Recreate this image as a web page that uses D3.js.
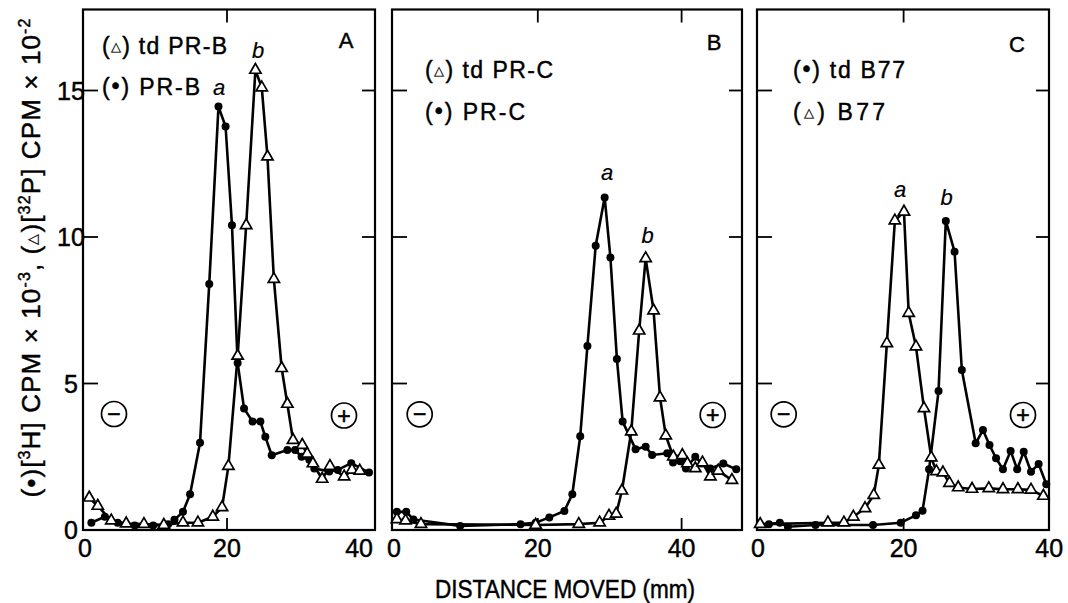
<!DOCTYPE html>
<html><head><meta charset="utf-8">
<script src="https://cdn.jsdelivr.net/npm/d3@7"></script>
<style>
html,body{margin:0;padding:0;background:#fff;}
svg{display:block;font-family:"Liberation Sans",Arial,Helvetica,sans-serif;}
svg text{stroke:#000;stroke-width:0.45px;}
</style></head><body>
<svg id="chart" width="1068" height="603"></svg>
<script>
// ---------------- DATA ----------------
const xTickValues = [0, 20, 40];
const yTickValues = [0, 5, 10, 15];
const panelLetters = ["A", "B", "C"];
const xAxisTitle = "DISTANCE MOVED (mm)";

// Panel A : (•) PR-B  and  (△) td PR-B
const prbX = [0.9,2.8,4.6,7.0,9.6,11.7,12.6,13.8,14.8,16.2,17.5,18.8,19.8,20.7,21.5,22.4,23.6,24.7,25.4,26.3,28.5,29.6,30.5,31.6,32.3,34.4,35.6,37.5,40.0];
const prbY = [0.25,0.45,0.25,0.15,0.15,0.2,0.35,0.62,1.22,2.98,8.4,14.45,13.77,10.4,5.7,4.15,3.7,3.7,3.18,2.55,2.73,2.73,2.5,2.4,2.1,2.0,2.05,2.28,1.96];
const tdprbX = [0.6,1.8,3.7,5.8,8.3,11.1,13.8,15.9,18.0,19.3,20.2,21.5,22.7,24.0,24.9,25.7,26.6,27.7,28.5,29.3,30.6,31.3,32.1,33.4,34.5,36.5,37.6,38.7];
const tdprbY = [1.1,0.82,0.32,0.22,0.2,0.17,0.25,0.25,0.45,0.77,2.18,5.94,10.4,15.7,15.1,12.74,8.56,5.52,4.3,3.07,2.9,2.6,2.27,1.74,2.18,1.82,2.05,2.02];

// Panel B : (•) PR-C  and  (△) td PR-C
const prcX = [0.4,1.7,2.7,9.2,17.6,19.7,21.6,23.7,24.8,25.9,26.9,28.05,29.3,30.1,31.0,31.8,33.6,35.0,35.9,38.0,38.8,39.8,40.6,41.9,42.8,44.0,45.8,47.6];
const prcY = [0.62,0.62,0.36,0.14,0.2,0.25,0.43,0.65,1.22,3.2,6.28,9.7,11.35,9.3,5.84,3.7,2.76,2.84,2.56,2.62,2.3,2.35,2.1,2.5,2.27,2.1,2.27,2.07];
const tdprcX = [0.4,1.6,3.75,19.7,25.7,28.6,29.9,30.9,31.7,33.0,34.1,35.0,36.1,37.0,37.8,38.85,40.1,40.8,41.9,42.9,44.0,45.1,47.0];
const tdprcY = [0.36,0.32,0.2,0.17,0.2,0.25,0.48,0.55,1.34,3.36,6.8,9.27,7.49,4.52,3.22,2.5,2.55,2.27,2.1,2.3,1.82,2.02,1.7];

// Panel C : (•) td B77  and  (△) B77
const tdb77X = [1.5,3.0,4.1,7.9,15.8,19.6,21.7,22.6,23.5,24.8,25.8,27.0,28.0,29.9,30.9,31.8,32.7,33.65,34.7,35.6,36.5,37.5,38.55,39.6];
const tdb77Y = [0.2,0.25,0.11,0.17,0.17,0.25,0.5,0.66,2.07,4.74,10.55,9.5,5.46,2.96,3.41,2.9,2.45,2.07,2.7,2.07,2.67,1.99,2.25,1.56];
const b77X = [0.3,9.6,11.8,13.1,14.7,15.9,16.6,17.7,18.8,20.05,20.7,21.7,22.8,23.8,24.5,25.4,26.3,27.5,29.4,31.7,33.65,35.7,37.5,39.2];
const b77Y = [0.2,0.25,0.25,0.45,0.74,1.19,2.22,6.37,10.56,10.86,7.4,6.26,4.15,2.47,2.0,1.96,1.6,1.45,1.4,1.42,1.39,1.39,1.37,1.16];

// Legend texts and peak labels
const legendA = [["tri", " td PR-B"], ["dot", " PR-B"]];
const legendB = [["tri", " td PR-C"], ["dot", " PR-C"]];
const legendC = [["dot", " td B77"], ["tri", " B77"]];
const peakLabels = ["a", "b"];

// ---------------- LAYOUT ----------------
const svg = d3.select("#chart");
const frameTop = 9.5, frameBottom = 530;
const y = d3.scaleLinear().domain([0, 15]).range([530, 90.5]);

const panels = [
  { letter: panelLetters[0], left: 83, right: 375, xr: [85, 369],
    series: [{x: prbX, y: prbY, m: "dot"}, {x: tdprbX, y: tdprbY, m: "tri"}],
    legend: legendA, legPos: [102, 54, 95], legW: [125, 98],
    letterPos: [346, 48],
    peaks: [[219, 95], [258, 58]],
    minus: [114, 414], plus: [344, 415.5],
    xTicksInner: [20], xLabelEndFix: true, showY: true },
  { letter: panelLetters[1], left: 392, right: 742, xr: [394, 681.6],
    series: [{x: prcX, y: prcY, m: "dot"}, {x: tdprcX, y: tdprcY, m: "tri"}],
    legend: legendB, legPos: [425, 78, 120], legW: [128, 100],
    letterPos: [714, 50],
    peaks: [[607, 180], [647.5, 243]],
    minus: [419.7, 414.3], plus: [712.7, 415],
    xTicksInner: [20, 40], xLabelEndFix: false, showY: false },
  { letter: panelLetters[2], left: 757, right: 1049, xr: [758, 1049.2],
    series: [{x: tdb77X, y: tdb77Y, m: "dot"}, {x: b77X, y: b77Y, m: "tri"}],
    legend: legendC, legPos: [793, 78, 120], legW: [112, 92],
    letterPos: [1017, 52],
    peaks: [[900, 197], [946.5, 205]],
    minus: [783.7, 414.3], plus: [1023, 415],
    xTicksInner: [20], xLabelEndFix: false, showY: false }
];

function fitWidth(sel, target) {
  const node = sel.node();
  const len = node.getComputedTextLength();
  const n = node.textContent.length;
  if (n > 1) sel.style("letter-spacing", ((target - len) / (n - 1)) + "px");
}

const triPath = d3.symbol(d3.symbolTriangle, 55)();

panels.forEach(p => {
  const x = d3.scaleLinear().domain([0, 40]).range(p.xr);
  const g = svg.append("g");

  // frame
  g.append("rect").attr("x", p.left).attr("y", frameTop)
    .attr("width", p.right - p.left).attr("height", frameBottom - frameTop)
    .attr("fill", "none").attr("stroke", "#000").attr("stroke-width", 2.2);

  // inner y ticks, both sides
  yTickValues.filter(v => v > 0).forEach(v => {
    g.append("line").attr("x1", p.left).attr("x2", p.left + 15)
      .attr("y1", y(v)).attr("y2", y(v)).attr("stroke", "#000").attr("stroke-width", 1.8);
    g.append("line").attr("x1", p.right - 13).attr("x2", p.right)
      .attr("y1", y(v)).attr("y2", y(v)).attr("stroke", "#000").attr("stroke-width", 1.8);
  });
  // inner x ticks, top and bottom
  p.xTicksInner.forEach(v => {
    g.append("line").attr("x1", x(v)).attr("x2", x(v))
      .attr("y1", frameTop).attr("y2", frameTop + 13).attr("stroke", "#000").attr("stroke-width", 1.8);
    g.append("line").attr("x1", x(v)).attr("x2", x(v))
      .attr("y1", frameBottom - 12).attr("y2", frameBottom).attr("stroke", "#000").attr("stroke-width", 1.8);
  });

  // x tick labels
  xTickValues.forEach(v => {
    const t = g.append("text").attr("y", 557).attr("font-size", 25).attr("fill", "#000").text(v);
    if (p.xLabelEndFix && v === 40) t.attr("x", p.right - 2).attr("text-anchor", "end");
    else t.attr("x", x(v)).attr("text-anchor", "middle");
  });

  // y tick labels (first panel only)
  if (p.showY) {
    yTickValues.forEach(v => {
      g.append("text").attr("x", 71).attr("y", y(v) + 9).attr("text-anchor", "middle")
        .attr("font-size", 25).attr("fill", "#000").text(v);
    });
  }

  // lines
  const line = d3.line().x(d => x(d[0])).y(d => y(d[1]));
  p.series.forEach(s => {
    const pts = s.x.map((xv, i) => [xv, s.y[i]]);
    g.append("path").datum(pts).attr("d", line).attr("fill", "none")
      .attr("stroke", "#000").attr("stroke-width", 2.6).attr("stroke-linejoin", "round");
  });
  // markers
  p.series.forEach(s => {
    const pts = s.x.map((xv, i) => [xv, s.y[i]]);
    if (s.m === "dot") {
      g.selectAll(null).data(pts).enter().append("circle")
        .attr("cx", d => x(d[0])).attr("cy", d => y(d[1])).attr("r", 4).attr("fill", "#000");
    }
  });
  p.series.forEach(s => {
    const pts = s.x.map((xv, i) => [xv, s.y[i]]);
    if (s.m === "tri") {
      g.selectAll(null).data(pts).enter().append("path").attr("d", triPath)
        .attr("transform", d => `translate(${x(d[0])},${y(d[1])})`)
        .attr("fill", "#fff").attr("stroke", "#000").attr("stroke-width", 1.7);
    }
  });

  // legend
  p.legend.forEach((L, i) => {
    const t = g.append("text").attr("x", p.legPos[0]).attr("y", p.legPos[1 + i])
      .attr("font-size", 23).attr("fill", "#000");
    t.append("tspan").text("(");
    if (L[0] === "tri") t.append("tspan").attr("font-size", 13).attr("dy", -3).style("stroke-width", "0.2px").text("△");
    else t.append("tspan").attr("dy", -1).text("•");
    t.append("tspan").attr("dy", L[0] === "tri" ? 3 : 1).text(")" + L[1]);
    fitWidth(t, p.legW[i]);
  });

  // panel letter
  g.append("text").attr("x", p.letterPos[0]).attr("y", p.letterPos[1]).attr("text-anchor", "middle")
    .attr("font-size", 22).attr("fill", "#000").text(p.letter);

  // peak labels
  p.peaks.forEach((pk, i) => {
    g.append("text").attr("x", pk[0]).attr("y", pk[1]).attr("text-anchor", "middle")
      .attr("font-size", 22).attr("font-style", "italic").style("stroke-width", "0.2px")
      .attr("fill", "#000").text(peakLabels[i]);
  });

  // electrode signs
  [[p.minus, "−"], [p.plus, "+"]].forEach(([c, s]) => {
    g.append("circle").attr("cx", c[0]).attr("cy", c[1]).attr("r", 12.5)
      .attr("fill", "#fff").attr("stroke", "#000").attr("stroke-width", 1.7);
    g.append("text").attr("x", c[0]).attr("y", c[1] + 8).attr("text-anchor", "middle")
      .attr("font-size", 23).style("stroke-width", "0.6px").attr("fill", "#000").text(s);
  });
});

// x axis title
const xt = svg.append("text").attr("x", 565).attr("y", 598).attr("text-anchor", "middle")
  .attr("font-size", 25).attr("fill", "#000").text(xAxisTitle);
xt.attr("textLength", 260).attr("lengthAdjust", "spacingAndGlyphs");

// y axis title (rotated)
const yt = svg.append("text").attr("transform", "translate(39.5,257.5) rotate(-90)")
  .attr("text-anchor", "middle").attr("font-size", 26).attr("fill", "#000");
function sup(sel, s) {
  sel.append("tspan").attr("dy", -10).attr("font-size", 16).text(s);
}
yt.append("tspan").text("(•)[");
sup(yt, "3");
yt.append("tspan").attr("dy", 10).text("H] CPM × 10");
sup(yt, "-3");
yt.append("tspan").attr("dy", 10).text(", (");
yt.append("tspan").attr("font-size", 14).attr("dy", -3).style("stroke-width", "0.2px").text("△");
yt.append("tspan").attr("dy", 3).text(")[");
sup(yt, "32");
yt.append("tspan").attr("dy", 10).text("P] CPM × 10");
sup(yt, "-2");
fitWidth(yt, 479);
</script>
</body></html>
